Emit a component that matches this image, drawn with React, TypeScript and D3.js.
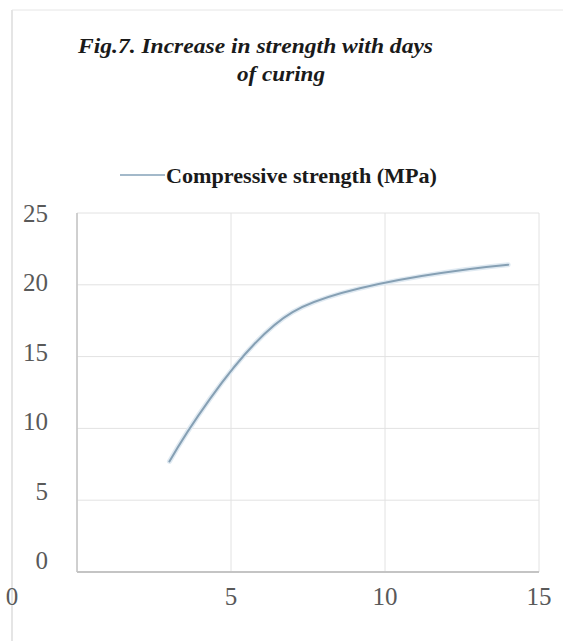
import React from 'react';
import * as d3 from 'd3';

// days of curing vs compressive strength (MPa)
const days = [3, 7, 14];
const strength = [7.7, 18.1, 21.4];
const xTicks = [0, 5, 10, 15];
const yTicks = [0, 5, 10, 15, 20, 25];
const titleLines = ['Fig.7. Increase in strength with days', 'of curing'];
const seriesName = 'Compressive strength (MPa)';

const width = 563;
const height = 641;

const App = () => {
  const x = d3.scaleLinear().domain([0, 15]).range([77, 539]);
  const y = d3.scaleLinear().domain([0, 25]).range([572, 213]);
  // tick labels in the picture sit slightly off the gridlines
  const yLabel = d3.scaleLinear().domain([0, 25]).range([560, 213]);

  const points = days.map((d, i) => [d, strength[i]] as [number, number]);
  const line = d3
    .line<[number, number]>()
    .x((d) => x(d[0]))
    .y((d) => y(d[1]))
    .curve(d3.curveCatmullRom.alpha(0));

  const font = '"Liberation Serif", "Times New Roman", serif';

  return (
    <svg
      width={width}
      height={height}
      style={{ position: 'absolute', left: 0, top: 0, background: '#fff' }}
    >
      {/* outer frame */}
      <line x1={12} x2={12} y1={10} y2={height} stroke="#dcdcdc" strokeWidth={1.5} />
      <line x1={12} x2={width} y1={10} y2={10} stroke="#e6e6e6" strokeWidth={1} />

      {/* title */}
      <text x={78} y={53} fontFamily={font} fontSize={22} fontWeight="bold" fontStyle="italic" fill="#1a1a1a" textLength={355} lengthAdjust="spacingAndGlyphs">
        {titleLines[0]}
      </text>
      <text x={237} y={81} fontFamily={font} fontSize={22} fontWeight="bold" fontStyle="italic" fill="#1a1a1a" textLength={88} lengthAdjust="spacingAndGlyphs">
        {titleLines[1]}
      </text>

      {/* legend */}
      <line x1={120} x2={165} y1={175} y2={175} stroke="#a3b9ca" strokeWidth={2} />
      <text x={166} y={183} fontFamily={font} fontSize={22} fontWeight="bold" fill="#1a1a1a" textLength={271} lengthAdjust="spacingAndGlyphs">
        {seriesName}
      </text>

      {/* gridlines */}
      {yTicks.map((t) => (
        <line key={`gy${t}`} x1={x(0)} x2={x(15)} y1={y(t)} y2={y(t)} stroke="#e2e2e2" strokeWidth={1} />
      ))}
      {xTicks.map((t) => (
        <line key={`gx${t}`} x1={x(t)} x2={x(t)} y1={y(25)} y2={y(0)} stroke="#e2e2e2" strokeWidth={1} />
      ))}
      {/* axes */}
      <line x1={x(0)} x2={x(0)} y1={y(25)} y2={y(0)} stroke="#c4c4c4" strokeWidth={1.5} />
      <line x1={x(0)} x2={x(15)} y1={y(0)} y2={y(0)} stroke="#c4c4c4" strokeWidth={2} />

      {/* y tick labels */}
      {yTicks.map((t) => (
        <text key={`ly${t}`} x={48} y={yLabel(t) + 9} textAnchor="end" fontFamily={font} fontSize={25} fill="#595959">
          {t}
        </text>
      ))}
      {/* x tick labels */}
      {xTicks.map((t) => (
        <text key={`lx${t}`} x={t === 0 ? 12 : x(t)} y={605} textAnchor="middle" fontFamily={font} fontSize={25} fill="#595959">
          {t}
        </text>
      ))}

      {/* series */}
      <path d={line(points) || undefined} fill="none" stroke="#e0eaf2" strokeWidth={5} strokeLinecap="round" />
      <path d={line(points) || undefined} fill="none" stroke="#86a0b4" strokeWidth={2} strokeLinecap="round" />
    </svg>
  );
};

export default App;
